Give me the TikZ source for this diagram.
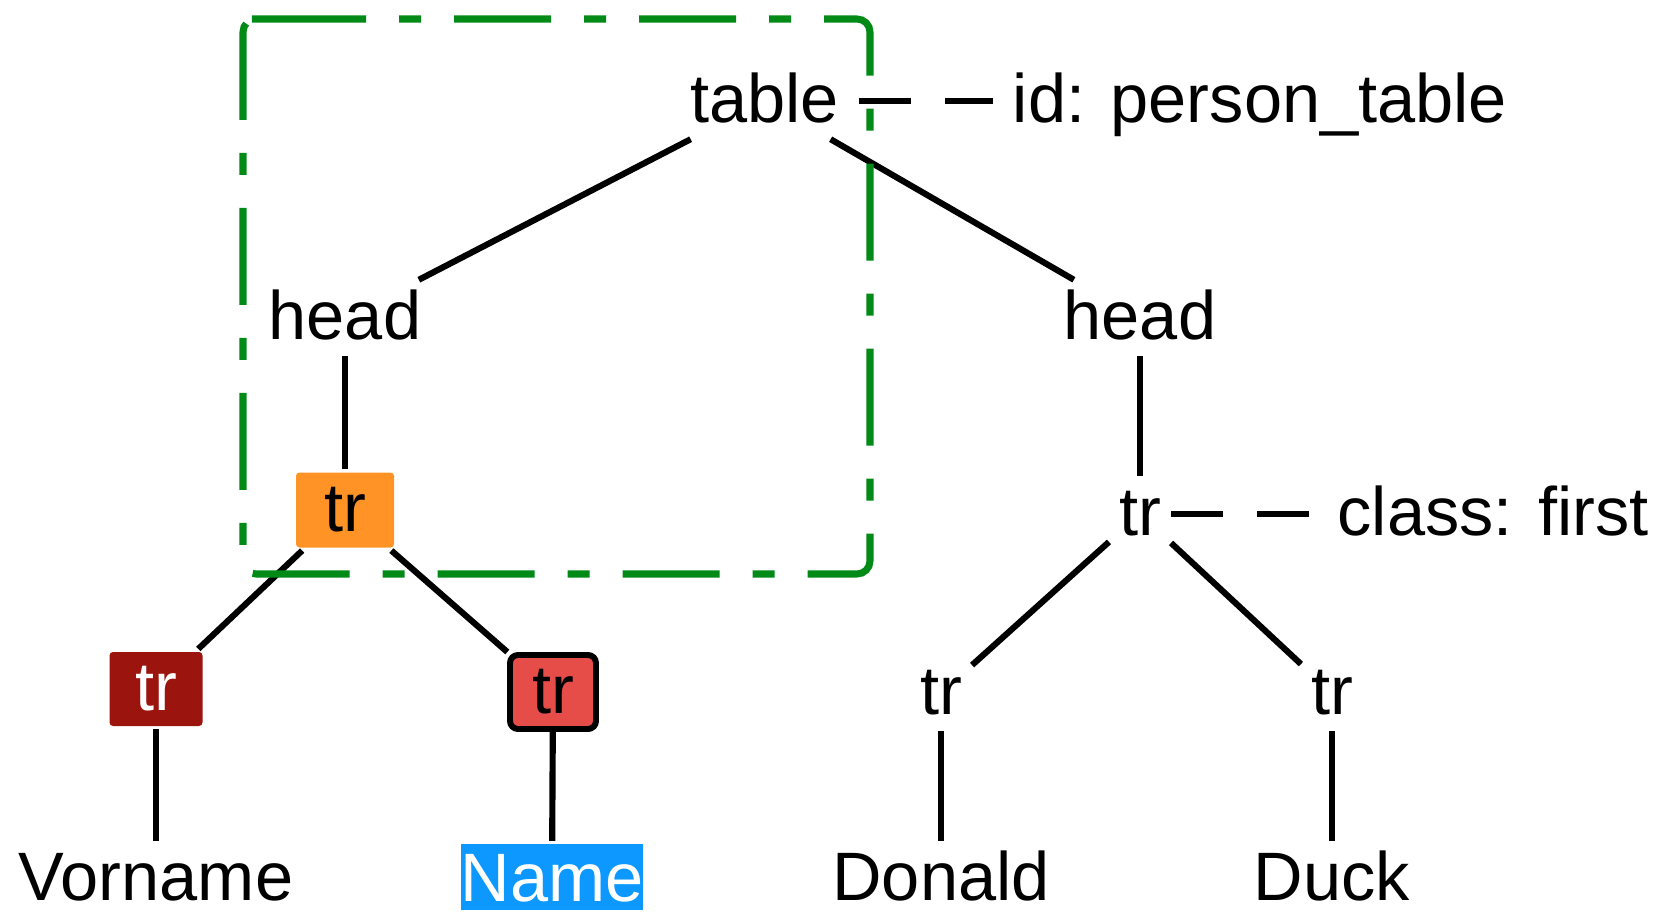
\documentclass[tikz,border=0pt]{standalone}
\usepackage{fontspec}
\setmainfont{Liberation Sans}
\usetikzlibrary{calc}

\definecolor{trorange}{RGB}{255,147,38}
\definecolor{trdark}{RGB}{155,20,14}
\definecolor{trred}{RGB}{230,76,72}
\definecolor{selblue}{RGB}{12,152,255}
\definecolor{boxgreen}{RGB}{2,138,23}

\begin{document}
\begin{tikzpicture}[line width=1.75pt,
	every node/.style={font=\fontsize{19.5}{23}\selectfont, text height=14pt, text depth=2pt, inner sep=2pt},
	trbox/.style={minimum width=0.93cm, minimum height=0.74cm, inner sep=0pt, rounded corners=1pt},
	leaf/.style={text depth=0pt},
	attr/.style={dash pattern=on 0.52cm off 0.34cm, shorten <=0.1cm, shorten >=0.1cm}]
\useasboundingbox (0,0) rectangle (16.68,-9.15);

%table
\node (table) at (7.645,-1.01) {table};
\node (id) at (12.60,-1.01) {id: person\_table};
\draw [attr] (table)--(id);

%left head
\node (headL) at (3.45,-3.18) {head};
\node [trbox, fill=trorange, minimum width=0.98cm, minimum height=0.75cm] (trL) at (3.45,-5.10) {tr};
\node [trbox, fill=trdark, text=white] (trLa) at (1.56,-6.89) {tr};
\node [trbox, fill=trred, draw=black, line width=1.7pt, rounded corners=0.08cm, minimum width=0.86cm] (trLb) at (5.53,-6.92) {tr};
\node [leaf] (vorname) at (1.56,-8.76) {Vorname};
\node [leaf, fill=selblue, text=white, inner xsep=0pt, inner ysep=0pt, minimum height=0.66cm] (name) at (5.52,-8.77) {Name};

\draw (table)--(headL);
\draw (headL)--(trL);
\draw (trL)--(trLa);
\draw (trL)--(trLb);
\draw (trLa)--(vorname);
\draw (trLb)--(name);

%right head
\node (headR) at (11.40,-3.18) {head};
\node (trR) at (11.40,-5.14) {tr};
\node (class) at (14.93,-5.14) {class: first};
\node (trRa) at (9.41,-6.93) {tr};
\node (trRb) at (13.32,-6.93) {tr};
\node [leaf] (donald) at (9.41,-8.76) {Donald};
\node [leaf] (duck) at (13.32,-8.76) {Duck};

\draw (table)--(headR);
\draw (headR)--(trR);
\draw [attr, shorten <=0pt] (trR)--(class);
\draw (trR)--(trRa);
\draw (trR)--(trRb);
\draw (trRa)--(donald);
\draw (trRb)--(duck);

%selection frame
\draw [boxgreen, line width=2pt, dash pattern=on 0.97cm off 0.33cm on 0.22cm off 0.33cm, rounded corners=0.13cm]
	(2.56,-0.19)--(8.70,-0.19)--(8.70,-5.74)--(2.43,-5.74)--(2.43,-0.19)--cycle;

\end{tikzpicture}
\end{document}
